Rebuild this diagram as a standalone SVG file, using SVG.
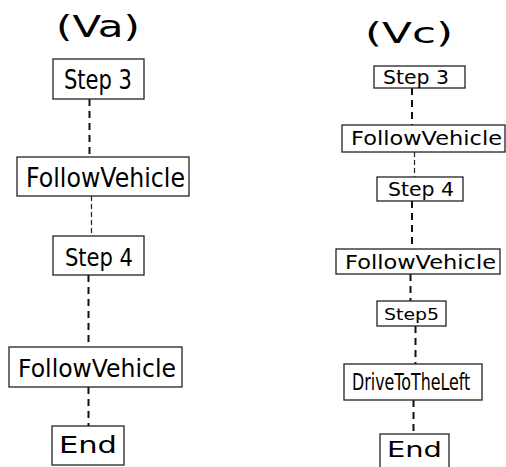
<svg xmlns="http://www.w3.org/2000/svg" width="506" height="467" viewBox="0 0 506 467">
  <style>
    .box { fill: #ffffff; stroke: #222222; stroke-width: 1.3; }
    .lbl { font-family: "DejaVu Sans", sans-serif; fill: #000000; }
    .ttl { font-family: "DejaVu Sans", sans-serif; fill: #000000; }
    .dash { stroke: #111111; stroke-width: 2; stroke-dasharray: 7 5; fill: none; }
    .dash-thin { stroke: #222222; stroke-width: 1.2; stroke-dasharray: 5 3; fill: none; }
  </style>
  <rect width="506" height="467" fill="#ffffff"/>

  <!-- column titles -->
  <text class="ttl" x="56" y="37" font-size="30" textLength="84" lengthAdjust="spacingAndGlyphs">(Va)</text>
  <text class="ttl" x="365" y="43" font-size="27.5" textLength="88" lengthAdjust="spacingAndGlyphs">(Vc)</text>

  <!-- connectors -->
  <g id="connectors">
    <line class="dash" x1="89.5" y1="99" x2="89.5" y2="157"/>
    <line class="dash-thin" x1="91.5" y1="196" x2="91.5" y2="236"/>
    <line class="dash" x1="88.5" y1="275" x2="88.5" y2="347"/>
    <line class="dash" x1="88.5" y1="387" x2="88.5" y2="426"/>

    <line class="dash" x1="412" y1="88" x2="412" y2="125"/>
    <line class="dash-thin" x1="414.5" y1="152" x2="414.5" y2="177"/>
    <line class="dash" x1="412" y1="201" x2="412" y2="249"/>
    <line class="dash" x1="410.5" y1="274" x2="410.5" y2="301"/>
    <line class="dash" x1="415.5" y1="326" x2="415.5" y2="364"/>
    <line class="dash" x1="413.5" y1="400" x2="413.5" y2="434"/>
  </g>

  <!-- left column (Va) -->
  <g id="va-step3">
    <rect class="box" x="53" y="59" width="91" height="40"/>
    <text class="lbl" x="64" y="89" font-size="26" textLength="68" lengthAdjust="spacingAndGlyphs">Step 3</text>
  </g>
  <g id="va-follow1">
    <rect class="box" x="17" y="157" width="172" height="39"/>
    <text class="lbl" x="26" y="187" font-size="26" textLength="159" lengthAdjust="spacingAndGlyphs">FollowVehicle</text>
  </g>
  <g id="va-step4">
    <rect class="box" x="53" y="236" width="91" height="39"/>
    <text class="lbl" x="65" y="266" font-size="25" textLength="68" lengthAdjust="spacingAndGlyphs">Step 4</text>
  </g>
  <g id="va-follow2">
    <rect class="box" x="9" y="347" width="173" height="40"/>
    <text class="lbl" x="18" y="377" font-size="25" textLength="158" lengthAdjust="spacingAndGlyphs">FollowVehicle</text>
  </g>
  <g id="va-end">
    <rect class="box" x="52" y="426" width="72" height="39"/>
    <text class="lbl" x="59" y="453" font-size="23" textLength="58" lengthAdjust="spacingAndGlyphs">End</text>
  </g>

  <!-- right column (Vc) -->
  <g id="vc-step3">
    <rect class="box" x="374" y="66" width="91" height="22"/>
    <text class="lbl" x="383" y="83.5" font-size="19" textLength="66" lengthAdjust="spacingAndGlyphs">Step 3</text>
  </g>
  <g id="vc-follow1">
    <rect class="box" x="342" y="125" width="163" height="27"/>
    <text class="lbl" x="351" y="144.5" font-size="19" textLength="151" lengthAdjust="spacingAndGlyphs">FollowVehicle</text>
  </g>
  <g id="vc-step4">
    <rect class="box" x="377" y="177" width="86" height="24"/>
    <text class="lbl" x="388" y="195.5" font-size="19" textLength="66" lengthAdjust="spacingAndGlyphs">Step 4</text>
  </g>
  <g id="vc-follow2">
    <rect class="box" x="336" y="249" width="164" height="25"/>
    <text class="lbl" x="345" y="268.5" font-size="19" textLength="151" lengthAdjust="spacingAndGlyphs">FollowVehicle</text>
  </g>
  <g id="vc-step5">
    <rect class="box" x="377" y="301" width="69" height="25"/>
    <text class="lbl" x="384" y="320" font-size="16.5" textLength="55" lengthAdjust="spacingAndGlyphs">Step5</text>
  </g>
  <g id="vc-drive-left">
    <rect class="box" x="344" y="364" width="138" height="36"/>
    <text class="lbl" transform="translate(352 390) scale(0.69 1)" font-size="23">DriveToTheLeft</text>
  </g>
  <g id="vc-end">
    <rect class="box" x="380" y="434" width="69" height="40"/>
    <text class="lbl" x="387" y="457" font-size="21" textLength="55" lengthAdjust="spacingAndGlyphs">End</text>
  </g>
</svg>
